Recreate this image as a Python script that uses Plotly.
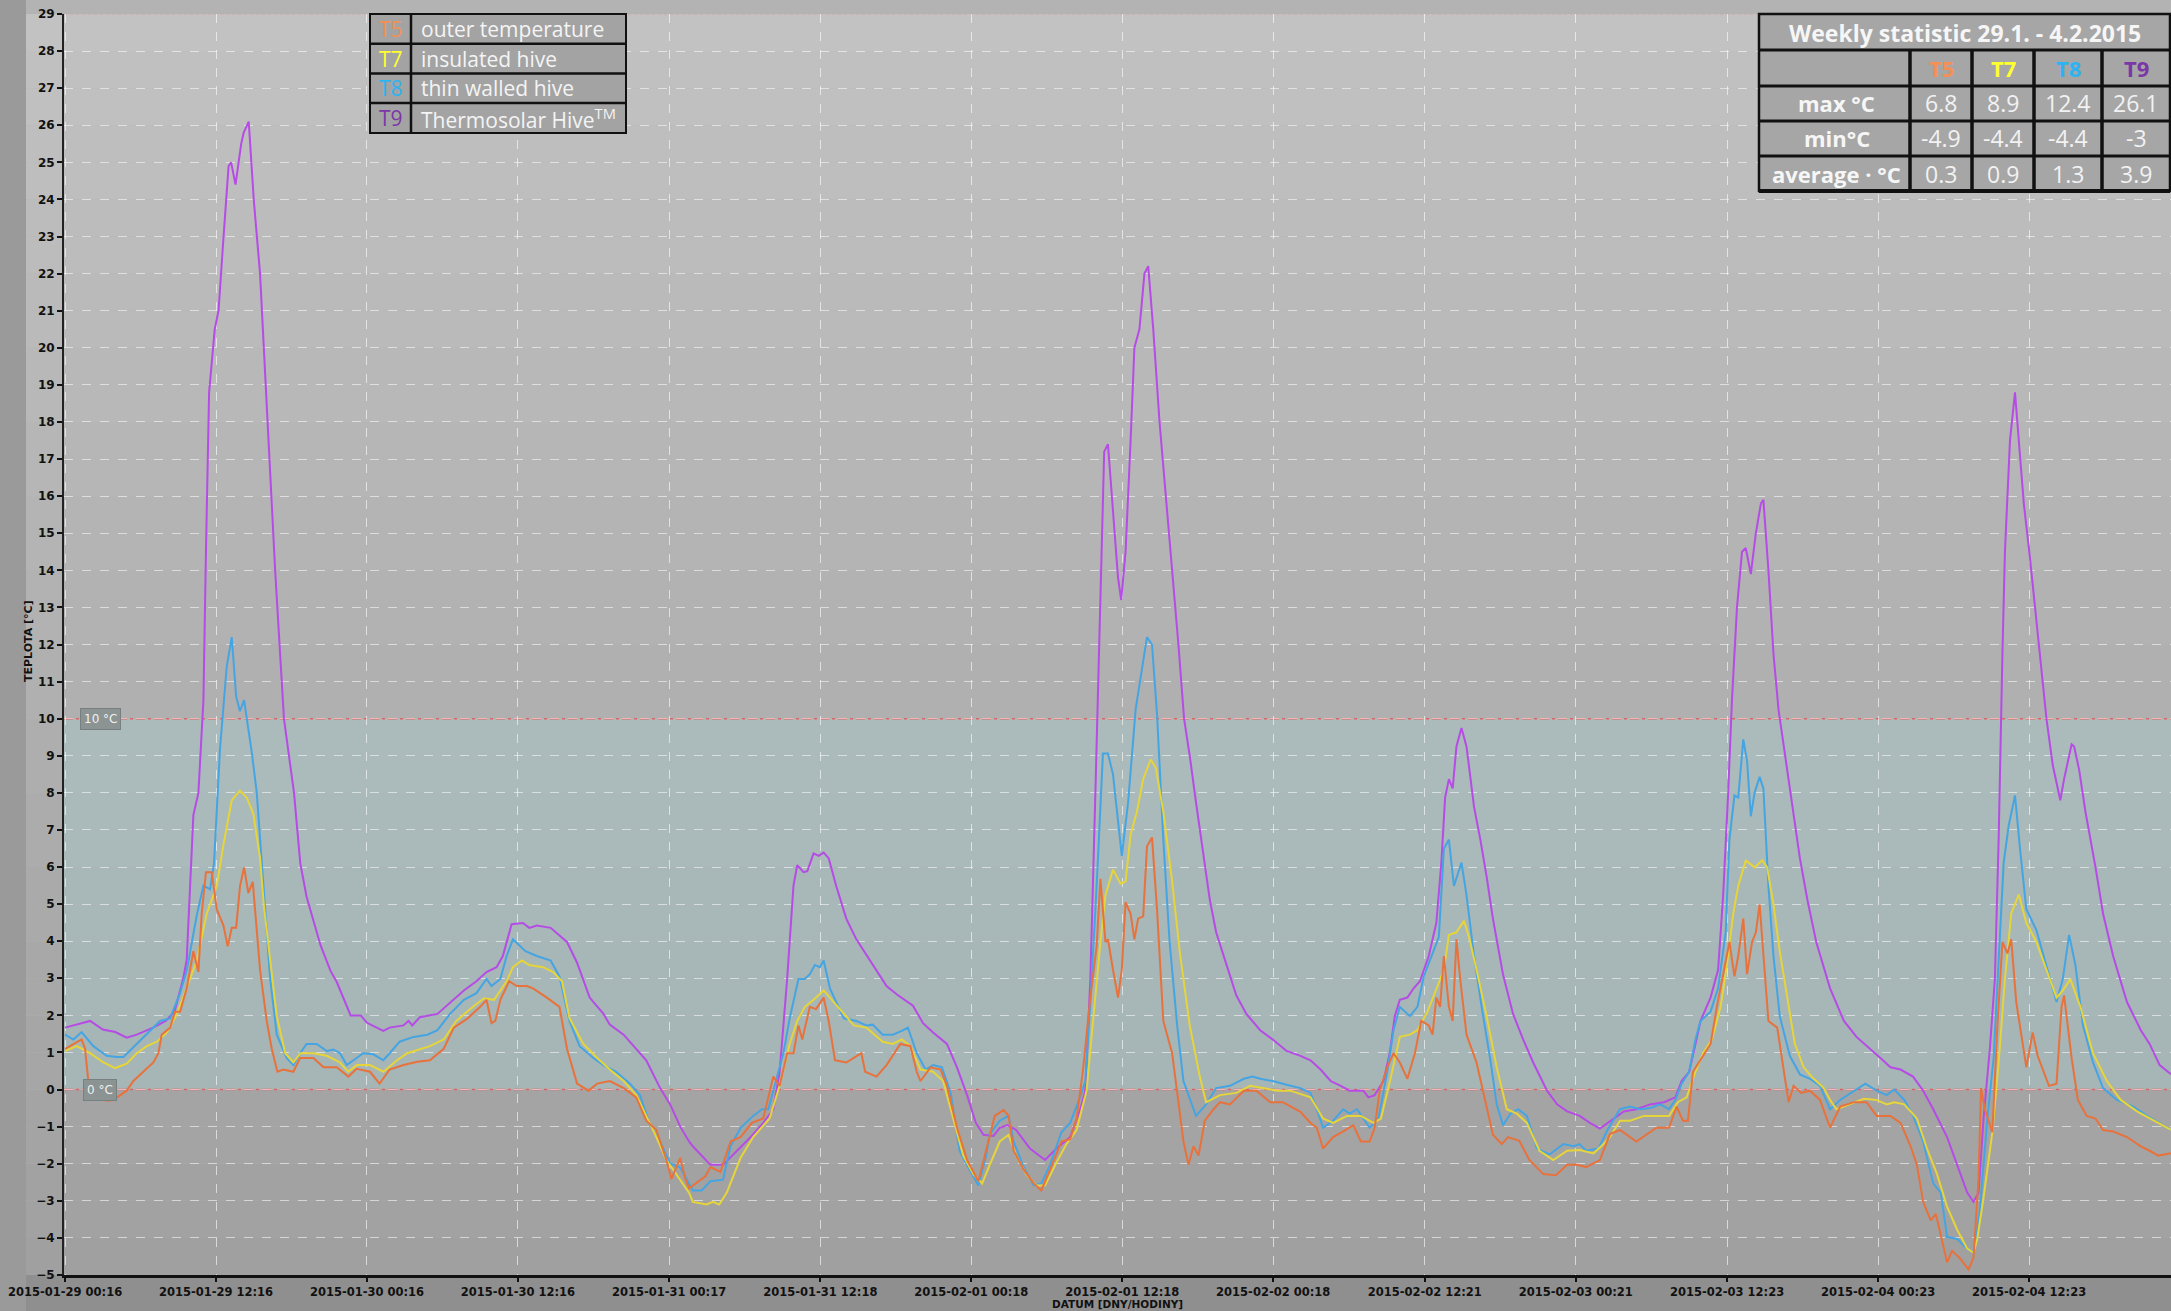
import pandas as pd
import plotly.graph_objects as go

START = pd.Timestamp("2015-01-29 00:16")

tick_labels = ["2015-01-29 00:16", "2015-01-29 12:16", "2015-01-30 00:16", "2015-01-30 12:16",
               "2015-01-31 00:17", "2015-01-31 12:18", "2015-02-01 00:18", "2015-02-01 12:18",
               "2015-02-02 00:18", "2015-02-02 12:21", "2015-02-03 00:21", "2015-02-03 12:23",
               "2015-02-04 00:23", "2015-02-04 12:23"]

series_codes = ["T5", "T7", "T8", "T9"]
series_desc = ["outer temperature", "insulated hive", "thin walled hive", "Thermosolar Hive<sup>TM</sup>"]
stat_max = ["6.8", "8.9", "12.4", "26.1"]
stat_min = ["-4.9", "-4.4", "-4.4", "-3"]
stat_avg = ["0.3", "0.9", "1.3", "3.9"]

# (hours since 2015-01-29 00:16, temperature °C)
t9 = [(0.0,1.67),(1.0,1.77),(2.0,1.85),(3.0,1.62),(4.0,1.55),(4.9,1.4),(5.7,1.48),(7.0,1.67),(8.0,1.85),
      (8.7,2.1),(9.0,2.5),(9.4,3.0),(9.67,3.5),(9.94,5.5),(10.2,7.4),(10.6,8.0),(11.0,10.5),(11.2,14.5),
      (11.45,18.8),(11.9,20.5),(12.2,21.0),(12.6,23.0),(13.0,24.9),(13.2,25.0),(13.55,24.4),(14.0,25.5),
      (14.2,25.8),(14.6,26.1),(15.0,24.0),(15.5,22.0),(16.0,18.5),(16.7,14.0),(17.4,10.0),(18.2,8.0),
      (18.7,6.1),(19.2,5.2),(20.3,3.9),(21.1,3.2),(21.6,2.9),(22.7,2.0),(23.5,2.0),(24.0,1.8),(25.3,1.58),
      (25.8,1.67),(26.9,1.73),(27.3,1.85),(27.6,1.73),(28.2,1.95),(29.6,2.04),(30.7,2.36),(31.7,2.67),
      (32.7,2.92),(33.5,3.17),(34.3,3.3),(34.8,3.6),(35.5,4.46),(36.4,4.49),(36.9,4.36),(37.5,4.42),
      (38.6,4.36),(39.9,3.98),(40.7,3.42),(41.7,2.48),(42.8,2.04),(43.3,1.75),(44.4,1.48),(45.2,1.17),
      (46.2,0.79),(47.3,0.04),(48.1,-0.4),(48.9,-1.0),(49.6,-1.4),(49.9,-1.53),(51.3,-2.03),(52.3,-2.03),
      (53.4,-1.65),(54.5,-1.28),(55.5,-0.9),(56.3,-0.53),(56.8,0.48),(57.4,2.98),(57.9,5.49),(58.2,6.05),
      (58.7,5.86),(59.0,5.89),(59.5,6.37),(59.9,6.3),(60.3,6.39),(60.7,6.24),(61.3,5.49),(62.1,4.61),
      (62.9,4.05),(64.0,3.48),(65.3,2.79),(66.1,2.57),(67.4,2.26),(68.2,1.79),(69.0,1.54),(70.1,1.23),
      (70.9,0.6),(71.7,-0.15),(72.4,-0.9),(73.0,-1.22),(73.8,-1.25),(74.3,-1.03),(74.9,-0.96),(75.6,-1.09),
      (76.7,-1.59),(77.9,-1.9),(78.8,-1.59),(79.9,-1.28),(80.7,-0.53),(81.1,-0.03),(81.5,2.98),(81.9,8.0),
      (82.3,13.5),(82.6,17.2),(82.9,17.4),(83.3,15.5),(83.7,13.8),(83.95,13.2),(84.3,14.5),(84.7,17.5),
      (85.0,20.0),(85.4,20.5),(85.8,22.0),(86.1,22.2),(86.5,20.5),(87.0,18.0),(87.5,16.0),(88.0,14.2),
      (88.5,12.0),(88.95,10.0),(89.4,9.0),(89.9,7.74),(90.5,6.24),(91.0,5.11),(91.5,4.24),(92.3,3.36),
      (93.1,2.54),(93.9,2.04),(94.4,1.85),(95.0,1.6),(96.0,1.35),(97.1,1.04),(98.2,0.91),(99.0,0.79),
      (99.8,0.54),(100.6,0.23),(101.4,0.1),(102.1,-0.03),(103.2,-0.03),(103.6,-0.21),(104.1,-0.15),
      (104.8,0.23),(105.3,0.98),(105.7,1.98),(106.1,2.42),(106.7,2.48),(107.2,2.73),(107.7,2.92),(108.4,3.6),
      (109.0,4.49),(109.4,6.12),(109.7,7.87),(110.0,8.37),(110.3,8.12),(110.6,9.25),(111.0,9.75),(111.4,9.25),
      (112.0,7.62),(112.5,6.74),(113.0,5.74),(113.5,4.61),(114.3,3.11),(115.1,2.04),(115.9,1.35),(116.7,0.73),
      (117.8,-0.03),(118.6,-0.4),(119.4,-0.59),(120.4,-0.71),(121.2,-0.9),(122.0,-1.05),(122.8,-0.85),
      (123.9,-0.59),(124.9,-0.53),(126.0,-0.4),(127.1,-0.34),(128.0,-0.21),(128.5,0.23),(129.1,0.48),
      (129.6,1.23),(130.0,1.85),(130.8,2.48),(131.4,3.23),(131.8,5.24),(132.2,8.0),(132.5,10.5),(132.9,13.0),
      (133.3,14.5),(133.6,14.6),(134.0,13.9),(134.4,15.0),(134.8,15.8),(135.0,15.9),(135.4,14.0),(135.8,11.75),
      (136.2,10.25),(136.9,8.62),(137.4,7.49),(137.9,6.24),(138.5,5.11),(139.2,3.98),(140.3,2.73),(141.4,1.85),
      (142.4,1.42),(143.5,1.1),(144.5,0.79),(145.1,0.6),(145.9,0.54),(146.9,0.35),(147.7,-0.03),(148.5,-0.53),
      (149.6,-1.28),(150.4,-2.03),(151.2,-2.78),(151.7,-3.03),(152.1,-2.78),(152.5,-0.78),(153.0,1.1),
      (153.4,2.98),(153.7,6.74),(154.0,11.75),(154.2,14.5),(154.6,17.5),(155.0,18.8),(155.3,17.5),(155.7,15.8),
      (156.2,14.3),(157.0,11.75),(157.5,10.0),(158.0,8.75),(158.6,7.8),(158.9,8.37),(159.5,9.31),(159.7,9.25),
      (160.1,8.62),(160.6,7.49),(161.4,5.99),(162.0,4.74),(162.8,3.6),(163.9,2.36),(165.0,1.6),(165.7,1.23),
      (166.5,0.66),(167.4,0.41)]

t8 = [(0.0,1.48),(0.66,1.35),(1.32,1.55),(2.25,1.17),(3.31,0.91),(4.1,0.88),(4.64,0.88),(5.7,1.23),(6.76,1.6),
      (7.55,1.85),(8.35,1.92),(9.14,2.6),(9.67,3.2),(10.47,4.7),(11.0,5.5),(11.53,5.4),(11.84,6.1),(12.32,9.2),
      (12.85,11.4),(13.25,12.2),(13.6,10.6),(13.9,10.2),(14.23,10.5),(14.84,9.1),(15.24,8.0),(15.77,5.5),
      (16.3,3.0),(16.83,1.48),(17.62,0.85),(18.15,0.66),(18.68,0.98),(19.2,1.23),(20.0,1.23),(20.8,1.04),
      (21.33,1.08),(21.86,0.98),(22.39,0.66),(23.18,0.85),(23.7,0.98),(24.5,0.95),(25.3,0.79),(25.8,0.98),
      (26.6,1.29),(27.7,1.42),(28.8,1.48),(29.6,1.6),(30.6,2.04),(31.7,2.42),(32.7,2.6),(33.5,2.98),(33.9,2.79),
      (34.6,2.98),(35.1,3.6),(35.6,4.05),(36.6,3.73),(37.5,3.6),(38.6,3.48),(39.3,3.05),(40.1,1.85),(40.9,1.17),
      (42.0,0.85),(42.8,0.66),(43.8,0.48),(44.9,0.16),(45.7,-0.15),(46.5,-0.96),(47.3,-1.4),(48.1,-2.0),
      (48.9,-2.1),(49.4,-2.41),(49.9,-2.72),(50.6,-2.72),(51.3,-2.47),(52.3,-2.43),(52.9,-1.53),(53.7,-1.03),
      (54.7,-0.71),(55.4,-0.53),(55.9,-0.53),(56.6,0.35),(57.1,0.98),(57.6,1.92),(58.3,2.98),(58.8,2.98),
      (59.2,3.11),(59.6,3.36),(60.0,3.3),(60.3,3.48),(60.8,2.73),(61.9,1.92),(62.9,1.85),(63.7,1.73),(64.2,1.75),
      (65.0,1.48),(65.8,1.48),(66.5,1.58),(67.0,1.67),(67.7,0.98),(68.4,0.54),(69.0,0.66),(69.7,0.6),(70.4,-0.09),
      (71.1,-1.65),(71.9,-2.16),(72.6,-2.59),(73.2,-1.8),(73.5,-1.2),(74.3,-0.84),(75.0,-0.71),(75.4,-1.4),
      (76.2,-2.09),(77.0,-2.59),(77.6,-2.53),(78.3,-2.03),(79.2,-1.15),(79.9,-0.9),(80.6,-0.28),(81.1,0.23),
      (81.5,2.36),(82.0,5.49),(82.5,9.06),(82.9,9.06),(83.3,8.5),(84.0,6.3),(84.5,7.74),(85.1,10.25),(85.5,11.13),
      (86.0,12.2),(86.4,12.0),(86.8,10.13),(87.3,6.74),(87.8,3.98),(88.4,1.73),(88.9,0.23),(89.9,-0.71),
      (90.7,-0.4),(91.5,0.04),(92.6,0.1),(93.7,0.29),(94.4,0.35),(95.0,0.29),(96.0,0.23),(97.1,0.13),(98.2,0.04),
      (99.0,-0.09),(99.5,-0.53),(100.0,-1.03),(100.8,-0.84),(101.6,-0.53),(102.1,-0.65),(102.7,-0.53),
      (103.2,-0.78),(103.7,-1.03),(104.4,-0.78),(105.1,0.48),(105.6,1.6),(106.1,2.23),(106.9,1.98),(107.5,2.23),
      (108.0,3.05),(108.5,3.48),(109.2,4.11),(109.6,6.49),(110.0,6.74),(110.4,5.49),(111.0,6.12),(111.4,5.24),
      (112.0,3.6),(112.6,2.23),(113.3,0.79),(113.8,-0.4),(114.3,-0.96),(114.9,-0.65),(115.5,-0.53),(116.2,-0.71),
      (117.0,-1.59),(118.0,-1.75),(119.1,-1.47),(119.9,-1.53),(120.4,-1.47),(120.9,-1.65),(121.9,-1.59),
      (122.6,-1.09),(123.6,-0.53),(124.4,-0.46),(125.2,-0.53),(126.0,-0.5),(126.8,-0.4),(127.5,-0.53),
      (128.0,-0.28),(128.5,0.16),(129.1,0.48),(129.6,1.35),(130.0,1.85),(130.8,2.1),(131.4,2.73),(132.0,4.24),
      (132.3,6.74),(132.7,7.93),(133.0,7.87),(133.4,9.44),(133.7,8.87),(134.0,7.37),(134.3,8.0),(134.7,8.43),
      (135.0,8.12),(135.4,5.49),(135.8,3.6),(136.3,1.98),(137.1,0.91),(137.9,0.41),(138.7,0.29),(139.5,0.1),
      (140.3,-0.53),(141.1,-0.28),(142.2,-0.03),(143.1,0.16),(144.0,-0.03),(144.8,-0.15),(145.4,0.0),
      (146.2,-0.28),(146.9,-0.71),(147.7,-1.4),(148.5,-2.53),(149.1,-2.78),(149.6,-3.97),(150.4,-4.03),
      (151.2,-4.29),(151.7,-4.4),(152.2,-3.28),(152.8,-0.78),(153.3,0.85),(153.7,3.6),(154.1,6.12),(154.5,7.12),
      (155.0,7.93),(155.4,6.49),(155.9,4.86),(156.7,4.3),(157.5,3.36),(158.3,2.36),(158.8,2.98),(159.3,4.17),
      (159.8,3.36),(160.4,1.73),(161.2,0.73),(162.0,0.04),(163.1,-0.28),(164.4,-0.46),(165.5,-0.71),
      (166.5,-0.9),(167.4,-1.09)]

t7 = [(0.0,1.04),(0.93,1.17),(1.99,0.98),(3.05,0.73),(3.97,0.58),(4.9,0.7),(5.7,0.98),(6.5,1.17),(7.3,1.29),
      (8.1,1.54),(8.9,2.04),(9.67,2.73),(10.47,3.48),(11.26,4.74),(12.06,5.49),(12.59,6.6),(13.25,7.8),
      (13.9,8.06),(14.44,7.87),(14.97,7.43),(15.5,6.24),(15.82,4.9),(16.3,3.5),(16.83,1.98),(17.5,0.98),
      (18.15,0.73),(18.7,0.98),(19.74,0.98),(20.8,0.91),(21.86,0.73),(22.5,0.48),(23.2,0.66),(24.24,0.66),
      (25.3,0.48),(26.4,0.79),(27.2,0.98),(29.0,1.17),(30.1,1.35),(31.1,1.85),(32.2,2.17),(33.3,2.46),(34.1,2.42),
      (35.1,2.92),(35.6,3.3),(36.3,3.48),(36.9,3.36),(38.0,3.3),(38.8,3.17),(39.5,2.92),(40.1,1.92),(41.2,1.23),
      (42.3,0.85),(43.3,0.54),(44.4,0.23),(45.4,-0.15),(46.2,-0.71),(47.0,-1.28),(47.8,-1.9),(48.6,-2.28),
      (49.6,-2.78),(49.9,-3.03),(51.0,-3.1),(51.5,-3.03),(52.0,-3.1),(52.6,-2.78),(53.7,-1.84),(54.7,-1.28),
      (56.0,-0.78),(56.8,0.1),(57.6,1.23),(58.2,1.85),(58.8,2.23),(59.5,2.42),(60.3,2.67),(60.8,2.48),(61.6,2.17),
      (62.7,1.73),(63.7,1.67),(65.0,1.29),(65.8,1.23),(66.5,1.35),(67.2,1.17),(68.0,0.54),(69.0,0.48),(69.8,0.23),
      (70.6,-0.78),(71.4,-1.78),(72.2,-2.28),(72.9,-2.53),(73.5,-2.03),(74.3,-1.4),(75.0,-1.22),(75.6,-1.78),
      (76.4,-2.28),(77.2,-2.59),(77.9,-2.59),(78.8,-1.97),(79.6,-1.47),(80.4,-1.09),(81.2,-0.03),(81.7,1.85),
      (82.3,3.98),(82.7,5.24),(83.3,5.93),(83.9,5.55),(84.3,5.61),(84.7,6.87),(85.2,7.49),(85.7,8.37),(86.3,8.9),
      (86.7,8.68),(87.3,7.49),(88.0,5.61),(88.6,3.73),(89.4,1.73),(90.2,0.35),(90.7,-0.34),(91.8,-0.15),
      (93.1,-0.09),(94.2,0.1),(95.2,0.04),(96.3,-0.03),(97.4,-0.03),(99.0,-0.21),(100.0,-0.78),(100.8,-0.9),
      (101.9,-0.71),(103.0,-0.71),(104.0,-0.9),(104.6,-0.78),(105.4,0.35),(106.1,1.42),(106.9,1.48),(107.5,1.6),
      (108.3,2.1),(108.9,2.6),(109.6,3.23),(110.0,4.17),(110.6,4.24),(111.2,4.55),(111.6,4.11),(112.2,3.23),
      (113.0,1.98),(113.8,0.6),(114.6,-0.53),(115.4,-0.65),(116.2,-0.9),(117.2,-1.65),(118.3,-1.9),(119.4,-1.65),
      (120.4,-1.63),(121.5,-1.72),(122.3,-1.47),(122.8,-1.28),(123.6,-0.84),(124.4,-0.84),(125.5,-0.71),
      (126.5,-0.71),(127.5,-0.71),(128.2,-0.34),(128.9,-0.21),(129.6,0.48),(130.2,0.98),(130.9,1.35),(131.6,2.23),
      (132.1,3.36),(132.6,4.74),(133.0,5.49),(133.6,6.18),(134.3,5.99),(134.9,6.18),(135.3,5.99),(135.8,4.99),
      (136.3,3.73),(136.9,2.48),(137.5,1.23),(138.2,0.6),(139.0,0.29),(139.8,0.04),(140.3,-0.28),(140.8,-0.53),
      (141.9,-0.4),(143.0,-0.25),(144.0,-0.28),(144.8,-0.4),(145.4,-0.34),(146.2,-0.4),(147.2,-0.78),(148.0,-1.59),
      (148.8,-2.28),(149.6,-3.16),(150.4,-3.78),(151.2,-4.29),(151.7,-4.4),(152.0,-4.03),(152.5,-2.91),
      (153.2,-1.15),(153.7,0.73),(154.2,2.98),(154.7,4.74),(155.3,5.26),(155.9,4.49),(156.7,3.98),(157.5,3.23),
      (158.3,2.48),(158.8,2.67),(159.4,2.98),(160.2,2.23),(161.2,0.98),(162.3,0.23),(163.4,-0.28),(164.7,-0.59),
      (166.0,-0.84),(167.4,-1.09)]

t5 = [(0.0,1.1),(0.66,1.23),(1.32,1.35),(1.59,1.1),(1.85,0.23),(2.25,-0.09),(3.31,-0.3),(3.84,-0.28),(4.9,-0.03),
      (5.43,0.23),(6.23,0.48),(7.02,0.73),(7.42,0.98),(7.68,1.48),(8.35,1.67),(8.74,2.1),(9.14,2.1),(9.67,2.73),
      (10.2,3.73),(10.6,3.17),(10.86,4.74),(11.2,5.86),(11.66,5.86),(12.06,4.86),(12.59,4.42),(12.93,3.86),
      (13.25,4.36),(13.6,4.36),(13.91,5.49),(14.23,5.99),(14.57,5.3),(14.92,5.6),(15.5,3.23),(16.03,1.85),
      (16.43,1.1),(16.88,0.48),(17.36,0.54),(18.15,0.48),(18.68,0.85),(19.74,0.85),(20.54,0.6),(21.6,0.6),
      (22.52,0.35),(23.18,0.56),(24.24,0.48),(25.0,0.16),(25.8,0.54),(26.9,0.66),(28.0,0.75),(29.0,0.79),
      (30.1,1.1),(30.9,1.67),(32.0,1.92),(33.0,2.23),(33.5,2.42),(33.9,1.79),(34.2,1.85),(34.6,2.42),(35.3,2.92),
      (35.9,2.79),(36.7,2.79),(37.2,2.73),(38.3,2.48),(39.3,2.23),(39.9,1.1),(40.7,0.16),(41.6,-0.03),(42.3,0.16),
      (43.3,0.23),(44.4,0.04),(45.4,-0.21),(46.2,-0.84),(47.0,-1.09),(47.8,-1.9),(48.2,-2.41),(48.9,-1.84),
      (49.3,-2.41),(49.6,-2.66),(50.9,-2.34),(51.3,-2.09),(52.1,-2.22),(52.9,-1.4),(53.7,-1.28),(54.6,-0.9),
      (55.5,-0.78),(56.3,0.35),(56.8,0.1),(57.4,0.98),(57.9,0.98),(58.3,1.73),(58.6,1.35),(59.2,2.23),(59.7,2.17),
      (60.3,2.48),(60.7,1.85),(61.2,0.79),(62.1,0.73),(63.3,0.98),(63.6,0.48),(64.5,0.35),(65.3,0.66),(66.4,1.23),
      (67.2,1.17),(67.7,0.48),(68.0,0.23),(68.8,0.6),(69.6,0.54),(70.1,0.1),(70.9,-1.03),(71.7,-1.9),(72.6,-2.47),
      (73.2,-1.65),(73.9,-0.71),(74.6,-0.55),(75.0,-0.71),(75.4,-1.65),(76.2,-2.16),(77.0,-2.53),(77.6,-2.72),
      (78.3,-2.16),(79.2,-1.4),(79.9,-1.34),(80.4,-0.78),(80.9,0.48),(81.5,2.48),(82.0,3.86),(82.3,5.68),
      (82.7,3.98),(82.9,4.05),(83.3,3.23),(83.7,2.48),(84.0,3.23),(84.3,5.05),(84.7,4.74),(85.0,4.05),(85.3,4.61),
      (85.7,4.67),(86.0,6.55),(86.4,6.8),(86.8,4.86),(87.3,1.85),(88.0,0.98),(88.5,-0.28),(88.9,-1.4),(89.3,-2.03),
      (89.7,-1.53),(90.1,-1.78),(90.6,-0.84),(91.3,-0.53),(91.8,-0.34),(92.6,-0.4),(93.7,-0.03),(94.7,-0.03),
      (95.8,-0.34),(96.8,-0.34),(97.5,-0.46),(98.2,-0.6),(99.0,-0.9),(99.5,-1.03),(100.0,-1.59),(100.8,-1.28),
      (101.6,-1.13),(102.4,-0.96),(103.0,-1.4),(103.7,-1.4),(104.1,-1.03),(104.5,-0.03),(105.1,0.6),(105.6,0.98),
      (106.1,0.73),(106.7,0.29),(107.3,0.98),(107.8,1.85),(108.4,1.73),(108.7,1.48),(109.0,2.48),(109.3,2.23),
      (109.6,3.6),(110.0,2.23),(110.3,1.85),(110.6,4.05),(110.9,2.98),(111.4,1.48),(112.2,0.73),(112.9,-0.28),
      (113.5,-1.22),(114.2,-1.47),(114.7,-1.28),(115.6,-1.38),(116.4,-1.9),(117.5,-2.28),(118.5,-2.31),
      (119.4,-2.03),(120.2,-2.03),(120.9,-2.09),(122.0,-1.9),(122.8,-1.2),(123.6,-1.09),(124.9,-1.4),
      (125.7,-1.22),(126.5,-1.03),(127.5,-1.03),(128.1,-0.46),(128.6,-0.84),(129.0,-0.84),(129.4,0.48),
      (130.1,0.85),(130.8,1.23),(131.3,2.23),(131.8,3.11),(132.3,3.98),(132.7,3.05),(133.0,3.6),(133.4,4.61),
      (133.7,3.11),(134.1,3.98),(134.4,4.24),(134.7,4.99),(135.0,3.73),(135.4,1.85),(136.1,1.67),(136.6,0.48),
      (137.0,-0.34),(137.4,0.1),(138.0,-0.09),(138.7,-0.03),(139.5,-0.28),(140.3,-1.03),(141.1,-0.46),
      (142.2,-0.34),(143.2,-0.34),(144.0,-0.71),(145.1,-0.71),(145.9,-0.9),(146.7,-1.53),(147.2,-2.03),
      (147.7,-3.03),(148.3,-3.53),(148.7,-3.35),(149.0,-3.78),(149.6,-4.66),(150.0,-4.35),(150.6,-4.54),
      (151.3,-4.85),(151.7,-4.54),(152.1,-2.41),(152.3,0.04),(152.6,-0.53),(153.2,-1.15),(153.6,1.73),
      (154.0,3.98),(154.4,3.67),(154.7,4.05),(155.1,2.36),(155.9,0.6),(156.4,1.54),(156.8,0.91),(157.7,0.1),
      (158.3,0.16),(158.7,2.23),(158.9,2.54),(159.5,0.85),(160.0,-0.28),(160.7,-0.71),(161.4,-0.78),
      (162.0,-1.09),(162.8,-1.13),(163.9,-1.28),(165.0,-1.53),(165.7,-1.65),(166.4,-1.78),(167.4,-1.72)]

line_colors = {"T5": "#e8723c", "T7": "#e6d53a", "T8": "#45a5e3", "T9": "#b64be6"}
code_colors = {"T5": "#f29055", "T7": "#ffff30", "T8": "#2cb4f2", "T9": "#7b36a8"}
series_data = {"T5": t5, "T7": t7, "T8": t8, "T9": t9}

W, H = 2171, 1311
ML, MR, MT, MB = 64, 0, 14, 36
PW, PH = W - ML - MR, H - MT - MB


def px(x):
    return (x - ML) / PW


def py(y):
    return 1 - (y - MT) / PH


def to_time(hours):
    return START + pd.to_timedelta(list(hours), unit="h")


fig = go.Figure()
for code in ["T9", "T8", "T7", "T5"]:
    hrs = [p[0] for p in series_data[code]]
    vals = [p[1] for p in series_data[code]]
    fig.add_trace(go.Scatter(x=to_time(hrs), y=vals, mode="lines", name=code,
                             line=dict(color=line_colors[code], width=2), showlegend=False))

shapes = []
# background gradient bands
for k in range(-5, 29):
    g = int(round(160 + (k + 5.5) / 34 * 34))
    shapes.append(dict(type="rect", xref="paper", yref="y", x0=px(26), x1=1, y0=k, y1=k + 1,
                       fillcolor=f"rgb({g},{g},{g})", line=dict(width=0), layer="below"))
# comfort band 0..10
shapes.append(dict(type="rect", xref="paper", yref="y", x0=0, x1=1, y0=0, y1=10,
                   fillcolor="rgba(165,215,215,0.30)", line=dict(width=0), layer="below"))
# left dark strip
shapes.append(dict(type="rect", xref="paper", yref="paper", x0=px(0), x1=px(26), y0=py(H), y1=py(0),
                   fillcolor="#9a9a9a", line=dict(width=0), layer="below"))
# bottom strip
shapes.append(dict(type="rect", xref="paper", yref="paper", x0=px(26), x1=1, y0=py(H), y1=0,
                   fillcolor="#8f8f8f", line=dict(width=0), layer="below"))
# limit lines
for yv in [0, 10]:
    shapes.append(dict(type="line", xref="paper", yref="y", x0=0, x1=1, y0=yv, y1=yv,
                       line=dict(color="rgba(232,85,85,0.85)", width=1.5, dash="dashdot"), layer="between"))
shapes.append(dict(type="line", xref="paper", yref="y", x0=0, x1=1, y0=29, y1=29,
                   line=dict(color="rgba(232,140,140,0.6)", width=1.2, dash="dot"), layer="between"))

# legend table
LX = [370, 411, 626]
LY = [14, 43.7, 73.4, 103.1, 133]
shapes.append(dict(type="rect", xref="paper", yref="paper", x0=px(LX[0]), x1=px(LX[2]), y0=py(LY[-1]), y1=py(LY[0]),
                   fillcolor="#a3a3a3", line=dict(color="#111111", width=2), layer="above"))
for yy in LY[1:-1]:
    shapes.append(dict(type="line", xref="paper", yref="paper", x0=px(LX[0]), x1=px(LX[2]), y0=py(yy), y1=py(yy),
                       line=dict(color="#111111", width=2.5), layer="above"))
shapes.append(dict(type="line", xref="paper", yref="paper", x0=px(LX[1]), x1=px(LX[1]), y0=py(LY[-1]), y1=py(LY[0]),
                   line=dict(color="#111111", width=2.5), layer="above"))

# statistics table
SX = [1759, 1910, 1972, 2034, 2102, 2170]
SY = [14, 50, 86, 121, 156, 191]
shapes.append(dict(type="rect", xref="paper", yref="paper", x0=px(SX[0]), x1=px(SX[-1]), y0=py(SY[-1]), y1=py(SY[0]),
                   fillcolor="#a6a6a6", line=dict(color="#111111", width=2.5), layer="above"))
for yy in SY[1:-1]:
    shapes.append(dict(type="line", xref="paper", yref="paper", x0=px(SX[0]), x1=px(SX[-1]), y0=py(yy), y1=py(yy),
                       line=dict(color="#111111", width=3), layer="above"))
shapes.append(dict(type="line", xref="paper", yref="paper", x0=px(SX[0]), x1=px(SX[-1]), y0=py(SY[-1]), y1=py(SY[-1]),
                   line=dict(color="#111111", width=4), layer="above"))
for xx in SX[1:-1]:
    shapes.append(dict(type="line", xref="paper", yref="paper", x0=px(xx), x1=px(xx), y0=py(SY[-1]), y1=py(SY[1]),
                       line=dict(color="#111111", width=3.5), layer="above"))

annotations = []
TF = "Open Sans"
for i, code in enumerate(series_codes):
    yc = (LY[i] + LY[i + 1]) / 2
    annotations.append(dict(xref="paper", yref="paper", x=px((LX[0] + LX[1]) / 2), y=py(yc), text=code,
                            showarrow=False, font=dict(family=TF, size=21, color=code_colors[code]),
                            xanchor="center", yanchor="middle"))
    annotations.append(dict(xref="paper", yref="paper", x=px(LX[1] + 8), y=py(yc), text=series_desc[i],
                            showarrow=False, font=dict(family=TF, size=21, color="#f4f4f4"),
                            xanchor="left", yanchor="middle"))

annotations.append(dict(xref="paper", yref="paper", x=px((SX[0] + SX[-1]) / 2), y=py((SY[0] + SY[1]) / 2 + 1),
                        text="<b>Weekly statistic 29.1. - 4.2.2015</b>", showarrow=False,
                        font=dict(family=TF, size=23, color="#f6f6f6"), xanchor="center", yanchor="middle"))
row_labels = ["<b>max °C</b>", "<b>min°C</b>", "<b>average · °C</b>"]
rows = [stat_max, stat_min, stat_avg]
for j, code in enumerate(series_codes):
    xc = (SX[j + 1] + SX[j + 2]) / 2
    annotations.append(dict(xref="paper", yref="paper", x=px(xc), y=py((SY[1] + SY[2]) / 2),
                            text=f"<b>{code}</b>", showarrow=False,
                            font=dict(family=TF, size=22, color=code_colors[code]),
                            xanchor="center", yanchor="middle"))
for r in range(3):
    yc = (SY[r + 2] + SY[r + 3]) / 2
    annotations.append(dict(xref="paper", yref="paper", x=px((SX[0] + SX[1]) / 2 + 2), y=py(yc),
                            text=row_labels[r], showarrow=False,
                            font=dict(family=TF, size=22, color="#f6f6f6"), xanchor="center", yanchor="middle"))
    for j in range(4):
        xc = (SX[j + 1] + SX[j + 2]) / 2
        annotations.append(dict(xref="paper", yref="paper", x=px(xc), y=py(yc), text=rows[r][j],
                                showarrow=False, font=dict(family=TF, size=23, color="#f2f2f2"),
                                xanchor="center", yanchor="middle"))

# limit labels
for yv, txt in [(10, "10 °C"), (0, "0 °C")]:
    annotations.append(dict(xref="paper", yref="y", x=px(100), y=yv, text=txt, showarrow=False,
                            font=dict(family="DejaVu Sans", size=12, color="#f0f0f0"),
                            bgcolor="#8b9393", bordercolor="#778080", borderwidth=1, borderpad=3,
                            xanchor="center", yanchor="middle"))

# axis titles
annotations.append(dict(xref="paper", yref="paper", x=px(28), y=py(641), text="TEPLOTA [°C]", textangle=-90,
                        showarrow=False, font=dict(family="DejaVu Sans", size=11, color="#111111", weight="bold"),
                        xanchor="center", yanchor="middle"))
annotations.append(dict(xref="paper", yref="paper", x=px(1117), y=py(1304), text="DATUM [DNY/HODINY]",
                        showarrow=False, font=dict(family="DejaVu Sans", size=10.5, color="#111111", weight="bold"),
                        xanchor="center", yanchor="middle"))

fig.update_layout(
    width=W, height=H,
    margin=dict(l=ML, r=MR, t=MT, b=MB, pad=0),
    paper_bgcolor="#b3b3b3",
    plot_bgcolor="rgba(0,0,0,0)",
    shapes=shapes,
    annotations=annotations,
    showlegend=False,
)
fig.update_xaxes(
    type="date",
    range=["2015-01-29 00:11", "2015-02-04 23:40"],
    tickvals=tick_labels, ticktext=tick_labels,
    tickfont=dict(family="DejaVu Sans", size=11.5, color="#111111", weight="bold"),
    ticks="outside", ticklen=4, tickwidth=1.5, tickcolor="#111111",
    showline=True, linecolor="#111111", linewidth=3,
    showgrid=True, gridcolor="rgba(255,255,255,0.6)", gridwidth=1.3, griddash="dash",
    zeroline=False, automargin=False,
)
fig.update_yaxes(
    range=[-5, 29], dtick=1, tick0=0,
    tickfont=dict(family="DejaVu Sans", size=12, color="#111111", weight="bold"),
    ticks="outside", ticklen=5, tickwidth=1.5, tickcolor="#111111",
    showline=True, linecolor="#222222", linewidth=2,
    showgrid=True, gridcolor="rgba(255,255,255,0.55)", gridwidth=1.3, griddash="dash",
    zeroline=False, automargin=False,
)

fig.write_html("out.html", config={"displayModeBar": False},
               post_script="document.body.style.margin='0';document.body.style.overflow='hidden';")
